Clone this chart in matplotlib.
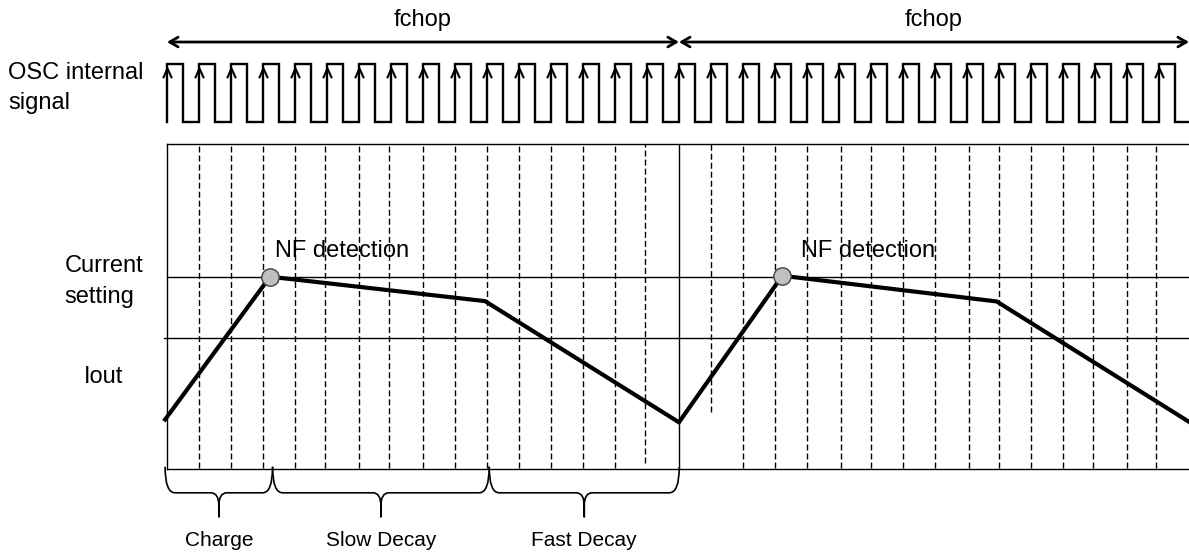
import numpy as np
import matplotlib.pyplot as plt
from matplotlib.path import Path
from matplotlib.patches import PathPatch

plt.rcParams['font.family'] = ['Liberation Sans', 'DejaVu Sans']

W, H = 1189, 556

# time in OSC clock periods, t = 0 at the start of the first fchop period
t_end = 31.94
clk_rise = np.arange(32)
clk_fall = clk_rise + 0.5
fchop_start = [0, 16]
fchop_end = [16, 31.94]

# dashed grid lines (one per clock rising edge) and where each one stops
grid_t = [1, 2, 3, 4, 4.95, 6, 6.95, 8, 9, 10, 11, 12, 13, 14, 14.95,
          17, 18, 19, 20, 21.05, 22, 23, 24, 25.05, 26, 27, 28, 28.95, 30, 30.9]
grid_low = [0.004] * 14 + [0.02, 0.176] + [0.004] * 14

# output current (box height = 1)
i_set = 0.590
i_ref = 0.405
iout_t = [-0.06, 3.22, 9.94, 16, 19.23, 25.93, 31.94]
iout_v = [0.153, 0.592, 0.517, 0.1445, 0.595, 0.516, 0.146]
nf_t = [3.22, 19.23]
nf_v = [0.592, 0.595]

phase_names = ['Charge', 'Slow Decay', 'Fast Decay']
phase_edges = [-0.06, 3.3, 10.07, 16.01]

fig = plt.figure(figsize=(W / 100, H / 100), dpi=100)

# --- clock panel ---
ax_clk = fig.add_axes([167 / W, 1 - 144 / H, 1 - 167 / W, 144 / H])
ax_clk.set_xlim(0, t_end)
ax_clk.set_ylim(-0.383, 2.091)
ax_clk.axis('off')

xs, ys = [], []
for r, f in zip(clk_rise, clk_fall):
    xs += [r, r, f, f]
    ys += [0, 1, 1, 0]
xs.append(t_end)
ys.append(0)
ax_clk.plot(xs, ys, color='black', lw=1.7, solid_joinstyle='miter', clip_on=False)

vee = Path([(-0.45, -1), (0, 0), (0.45, -1)], [Path.MOVETO, Path.LINETO, Path.LINETO])
ax_clk.plot(clk_rise, np.full(len(clk_rise), 0.92), ls='none', marker=vee,
            ms=14, mfc='none', mec='black', mew=1.5, clip_on=False)

for a, b in zip(fchop_start, fchop_end):
    ax_clk.annotate('', xy=(b, 1.369), xytext=(a, 1.369),
                    arrowprops=dict(arrowstyle='<->,head_length=0.6,head_width=0.35',
                                    lw=2, color='black', shrinkA=0, shrinkB=0))
    ax_clk.text((a + b) / 2, 1.75, 'fchop', ha='center', va='center', fontsize=17)

# --- current panel ---
ax = fig.add_axes([167 / W, 1 - 469.3 / H, 1 - 167 / W, 325.3 / H])
ax.set_xlim(0, t_end)
ax.set_ylim(0, 1)
ax.set_xticks([])
ax.set_yticks([])
ax.spines['right'].set_visible(False)
for s in ['left', 'top', 'bottom']:
    ax.spines[s].set_linewidth(1.0)

ax.vlines(grid_t, grid_low, 1, colors='black', lw=1.0, linestyles=(0, (4.3, 2.2)))
ax.axvline(16, color='black', lw=1.0)
ax.plot([0, t_end], [i_set, i_set], color='black', lw=1.0, clip_on=False)
ax.plot([-0.1, t_end], [i_ref, i_ref], color='black', lw=1.0, clip_on=False)

ax.plot(iout_t, iout_v, color='black', lw=3.0, clip_on=False, solid_joinstyle='miter')
ax.plot(nf_t, nf_v, ls='none', marker='o', ms=12.5, mfc='#c0c0c0', mec='#404040',
        mew=1.0, zorder=5)
for t0, dx in zip(nf_t, [0.16, 0.58]):
    ax.text(t0 + dx, 0.672, 'NF detection', ha='left', va='center', fontsize=17)

# braces under the phases
px_x, px_y = 1 / 32, 1 / 325.3
y_top, y_mid, y_tip = 2.6 * px_y, -23.5 * px_y, -48 * px_y
for name, x0, x1 in zip(phase_names, phase_edges[:-1], phase_edges[1:]):
    xm = (x0 + x1) / 2
    r, rc, d = 10 * px_x, 8 * px_x, 13 * px_y
    verts = [(x0, y_top), (x0, y_mid), (x0 + r, y_mid),
             (xm - rc, y_mid), (xm, y_mid), (xm, y_mid - d),
             (xm, y_tip), (xm, y_mid - d),
             (xm, y_mid), (xm + rc, y_mid),
             (x1 - r, y_mid), (x1, y_mid), (x1, y_top)]
    codes = [Path.MOVETO, Path.CURVE3, Path.CURVE3,
             Path.LINETO, Path.CURVE3, Path.CURVE3,
             Path.LINETO, Path.LINETO,
             Path.CURVE3, Path.CURVE3,
             Path.LINETO, Path.CURVE3, Path.CURVE3]
    ax.add_patch(PathPatch(Path(verts, codes), fill=False, lw=1.2,
                           edgecolor='black', clip_on=False))
    ax.text(xm, -71.5 * px_y, name, ha='center', va='center', fontsize=15)

# --- row labels ---
def fx(p):
    return p / W

def fy(p):
    return 1 - p / H

fig.text(fx(8), fy(79), 'OSC internal', ha='left', va='baseline', fontsize=17)
fig.text(fx(8), fy(109), 'signal', ha='left', va='baseline', fontsize=17)
fig.text(fx(104), fy(271.5), 'Current', ha='center', va='baseline', fontsize=17)
fig.text(fx(99), fy(303), 'setting', ha='center', va='baseline', fontsize=17)
fig.text(fx(104), fy(383), 'Iout', ha='center', va='baseline', fontsize=17)

fig.savefig('out.png', dpi=100)
